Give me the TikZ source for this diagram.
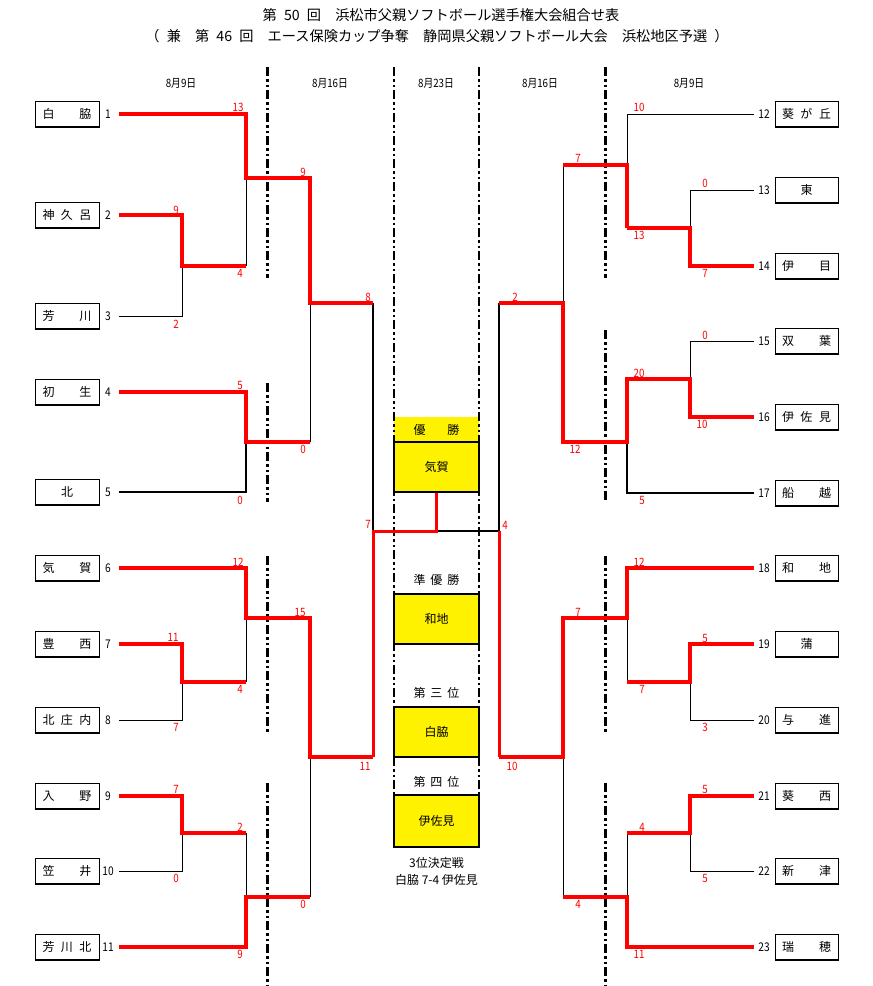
\documentclass[tikz,border=0pt]{standalone}
\usepackage{fontspec}
\setmainfont{Noto Sans CJK JP}
\newfontfamily\narrowjp{Noto Sans CJK JP}[FakeStretch=0.85]
\begin{document}
\begin{tikzpicture}[x=1pt,y=-1pt,
  win/.style={draw=red, line width=4pt, line join=miter},
  winf/.style={draw=red, line width=3pt, line join=miter},
  lose/.style={draw=black, line width=1pt},
  losetwo/.style={draw=black, line width=2pt},
  team/.style={draw, line width=1pt, minimum width=64pt, minimum height=25pt, inner sep=0pt, font=\fontsize{12}{12}\selectfont},
  num/.style={font=\narrowjp\fontsize{12}{12}\selectfont, inner sep=0pt},
  sc/.style={text=red, font=\narrowjp\fontsize{11.5}{11.5}\selectfont, inner sep=0pt},
  datelab/.style={font=\narrowjp\fontsize{11.5}{11.5}\selectfont, inner sep=0pt},
  ttl/.style={font=\fontsize{14.2}{14.2}\selectfont, inner sep=0pt},
  sepline/.style={line width=3pt, dash pattern=on 9pt off 3pt on 2.5pt off 3pt on 2.5pt off 3pt},
  cenline/.style={line width=1.8pt, dash pattern=on 9pt off 3pt on 2.5pt off 3pt on 2.5pt off 3pt},
  ybox/.style={draw, fill=yellow, line width=2pt, minimum width=85pt, minimum height=50pt, inner sep=0pt, font=\fontsize{12}{12}\selectfont},
  capt/.style={font=\fontsize{12}{12}\selectfont, inner sep=0pt},
]
\useasboundingbox (0,0) rectangle (873,986);
\def\hs{\hspace{0.5em}}

% titles
\node[ttl] (title) at (441,15) {第\hs 50\hs 回　浜松市父親ソフトボール選手権大会組合せ表};
\node[ttl] (subtitle) at (437,36) {（\hs 兼　第\hs 46\hs 回　エース保険カップ争奪　静岡県父親ソフトボール大会　浜松地区予選\hs ）};

% dates
\node[datelab] (d1) at (181,83) {8月9日};
\node[datelab] (d2) at (330,83) {8月16日};
\node[datelab] (d3) at (436,83) {8月23日};
\node[datelab] (d4) at (540,83) {8月16日};
\node[datelab] (d5) at (689,83) {8月9日};

% separators
\foreach \x/\a/\b in {267/67/278, 267/383/502, 267/556/732, 267/783/985,
                      605/67/278, 605/330/502, 605/556/732, 605/783/985}
  \draw[sepline] (\x,\a) -- (\x,\b);

% header fill for champion
\fill[yellow] (394,417) rectangle (479,442);
\draw[cenline] (394,67) -- (394,795);
\draw[cenline] (479,67) -- (479,795);

% teams left
\foreach \i/\y/\nm in {1/114/{白\hfill 脇}, 2/215/{神\hfill 久\hfill 呂}, 3/316/{芳\hfill 川},
  4/392/{初\hfill 生}, 5/492/{\hfill 北\hfill}, 6/568/{気\hfill 賀}, 7/644/{豊\hfill 西},
  8/720/{北\hfill 庄\hfill 内}, 9/796/{入\hfill 野}, 10/871/{笠\hfill 井}, 11/947/{芳\hfill 川\hfill 北}}{
  \node[team] (t\i) at (67,\y) {\makebox[49pt]{\nm}};
  \draw[line width=2.2pt] (t\i.south west) -- (t\i.south east);
  \node[num] (n\i) at (108,\y) {\i};
  \coordinate (L\i) at (119,\y);
}
% teams right
\foreach \i/\y/\nm in {12/114/{葵\hfill が\hfill 丘}, 13/190/{\hfill 東\hfill}, 14/266/{伊\hfill 目},
  15/341/{双\hfill 葉}, 16/417/{伊\hfill 佐\hfill 見}, 17/493/{船\hfill 越}, 18/568/{和\hfill 地},
  19/644/{\hfill 蒲\hfill}, 20/720/{与\hfill 進}, 21/796/{葵\hfill 西}, 22/871/{新\hfill 津}, 23/947/{瑞\hfill 穂}}{
  \node[team, minimum width=63pt] (t\i) at (806.5,\y) {\makebox[49pt]{\nm}};
  \draw[line width=2.2pt] (t\i.south west) -- (t\i.south east);
  \node[num] (n\i) at (764,\y) {\i};
  \coordinate (R\i) at (754,\y);
}

% junctions left
\coordinate (a23) at (182,266);
\coordinate (a1) at (246,178);
\coordinate (a45) at (246,442);
\coordinate (b14) at (310,303);
\coordinate (a78) at (182,682);
\coordinate (a6) at (246,618);
\coordinate (a910) at (182,833);
\coordinate (a11) at (246,897);
\coordinate (b611) at (310,757);
\coordinate (sL) at (373,531);
\coordinate (F) at (436.5,531);
% junctions right
\coordinate (c1314) at (690,228);
\coordinate (c12) at (627,165);
\coordinate (c1516) at (690,379);
\coordinate (c17) at (627,442);
\coordinate (d) at (563,303);
\coordinate (c1920) at (690,682);
\coordinate (c18) at (627,618);
\coordinate (c2122) at (690,833);
\coordinate (c23) at (627,897);
\coordinate (d2) at (563,757);
\coordinate (sR) at (499,531);

% center boxes
\node[ybox] (champ) at (436.5,467) {気賀};
\node[capt] (hdr) at (436.5,430) {\makebox[46pt]{優\hfill 勝}};
\node[capt] (lab2) at (436.5,580) {\makebox[46pt]{準\hfill 優\hfill 勝}};
\node[ybox] (runner) at (436.5,619) {和地};
\node[capt] (lab3) at (436.5,693) {\makebox[46pt]{第\hfill 三\hfill 位}};
\node[ybox] (third) at (436.5,732) {白脇};
\node[capt] (lab4) at (436.5,782) {\makebox[46pt]{第\hfill 四\hfill 位}};
\node[ybox, minimum height=52pt] (fourth) at (436.5,821) {伊佐見};
\node[capt] (note1) at (436.5,863) {3位決定戦};
\node[capt] (note2) at (436.5,880) {白脇 7-4 伊佐見};

% losers (black)
\draw[lose] (L3) -| (a23);
\draw[lose] (a23 -| a1) -- (a1);
\draw[losetwo] (L5) -| (a45);
\draw[lose] (a45 -| b14) -- (b14);
\draw[lose] (L8) -| (a78);
\draw[lose] (a78 -| a6) -- (a6);
\draw[lose] (L10) -| (a910);
\draw[lose] (a910 -| a11) -- (a11);
\draw[lose] (a11 -| b611) -- (b611);
\draw[losetwo] (b14 -| sL) -- (sL);
\draw[losetwo] (F) -- (sR);
\draw[losetwo] (d -| sR) -- (sR);
\draw[lose] (R13) -| (c1314);
\draw[lose] (R12) -| (c12);
\draw[lose] (c12 -| d) -- (d);
\draw[lose] (R15) -| (c1516);
\draw[losetwo] (R17) -| (c17);
\draw[lose] (R20) -| (c1920);
\draw[lose] (c1920 -| c18) -- (c18);
\draw[lose] (R22) -| (c2122);
\draw[lose] (c2122 -| c23) -- (c23);
\draw[lose] (c23 -| d2) -- (d2);

% winners (red)
\draw[win] (L2) -| (a23) -- (a23 -| a1);
\draw[win] (L1) -| (a1) -- (a1 -| b14) -- (b14) -- (b14 -| sL);
\draw[win] (L4) -| (a45) -- (a45 -| b14);
\draw[win] (L7) -| (a78) -- (a78 -| a6);
\draw[win] (L6) -| (a6) -- (a6 -| b611) -- (b611) -- (b611 -| sL);
\draw[winf] (b611 -| sL) -- (sL) -- (F) -- (champ.south);
\draw[win] (L9) -| (a910) -- (a910 -| a11);
\draw[win] (L11) -| (a11) -- (a11 -| b611);
\draw[win] (R14) -| (c1314) -- (c1314 -| c12);
\draw[win] (c1314 -| c12) -- (c12) -- (c12 -| d);
\draw[win] (R16) -| (c1516) -- (c1516 -| c17) -- (c17) -- (c17 -| d) -- (d) -- (d -| sR);
\draw[win] (R19) -| (c1920) -- (c1920 -| c18);
\draw[win] (R18) -| (c18) -- (c18 -| d2) -- (d2) -- (d2 -| sR);
\draw[winf] (d2 -| sR) -- (sR);
\draw[win] (R21) -| (c2122) -- (c2122 -| c23);
\draw[win] (R23) -| (c23) -- (c23 -| d2);

% scores
\foreach \k/\x/\y/\s in {1/238/107/13, 2/176/210/9, 3/176/324/2, 4/240/273/4, 5/303/172/9,
  6/368/297/8, 7/240/385/5, 8/240/500/0, 9/303/449/0, 10/368/524/7, 11/238/562/12,
  12/173/637/11, 13/176/727/7, 14/240/689/4, 15/300/612/15, 16/365/766/11, 17/176/789/7,
  18/176/878/0, 19/240/827/2, 20/240/954/9, 21/303/904/0, 22/505/525/4,
  23/639/107/10, 24/578/158/7, 25/705/183/0, 26/639/235/13, 27/705/273/7, 28/515/297/2,
  29/705/335/0, 30/639/373/20, 31/702/424/10, 32/575/449/12, 33/642/500/5, 34/639/562/12,
  35/578/612/7, 36/705/638/5, 37/642/689/7, 38/705/727/3, 39/512/766/10, 40/705/789/5,
  41/642/827/4, 42/705/878/5, 43/578/904/4, 44/639/954/11}
  \node[sc] (s\k) at (\x,\y) {\s};
\end{tikzpicture}
\end{document}
